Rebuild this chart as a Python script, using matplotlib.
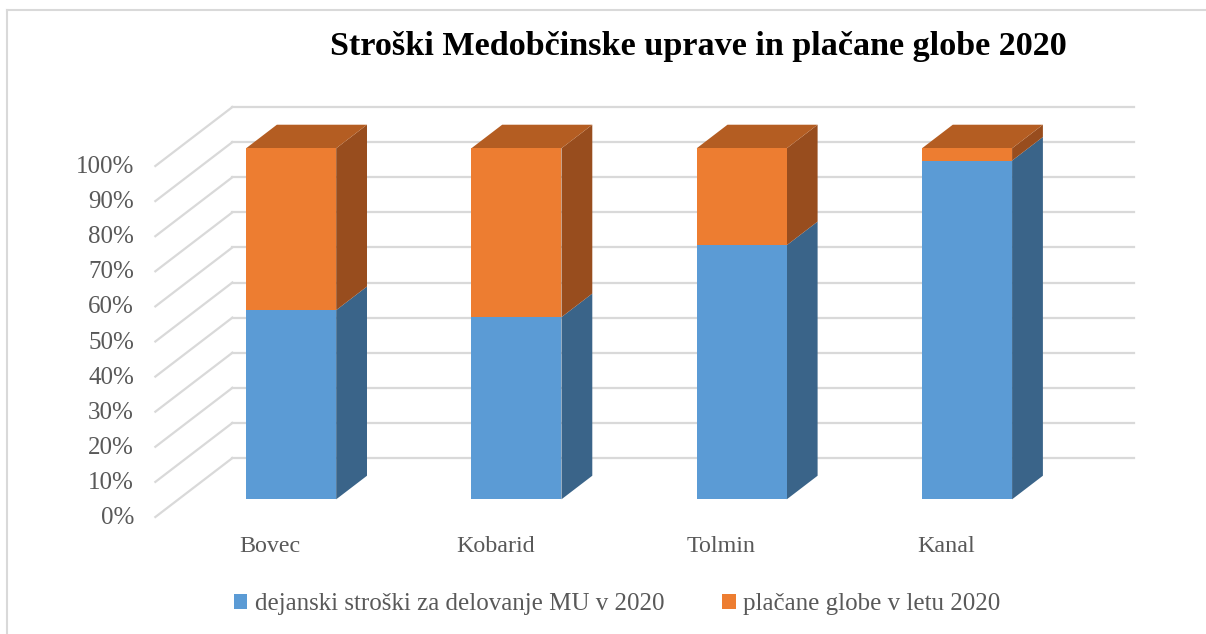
import matplotlib
matplotlib.use("Agg")
import matplotlib.pyplot as plt
from matplotlib.patches import Polygon, Patch
from matplotlib.lines import Line2D

# ---- data ----
categories = ["Bovec", "Kobarid", "Tolmin", "Kanal"]
stroski = [53.9, 51.9, 72.4, 96.5]          # dejanski stroški za delovanje MU v 2020 (%)
globe = [100 - v for v in stroski]          # plačane globe v letu 2020 (%)
series_names = ["dejanski stroški za delovanje MU v 2020", "plačane globe v letu 2020"]
yticks = list(range(0, 101, 10))
ytick_labels = [f"{t}%" for t in yticks]
title = "Stroški Medobčinske uprave in plačane globe 2020"

# ---- style ----
front_cols = ["#5B9BD5", "#ED7D31"]
side_cols = ["#3A6489", "#984D1E"]
top_cols = ["#4A7DB0", "#B45D22"]
grid_col = "#D9D9D9"
text_col = "#595959"
FONT = "Liberation Serif"

# oblique projection (category units / percent units)
DX = 0.342    # x shift for full depth
DY = 16.8     # y shift for full depth
BAR_W = 0.4
Z0, Z1 = 0.3, 0.7


def proj(x, y, z):
    return (x + z * DX, y + z * DY)


fig = plt.figure(figsize=(12.06, 6.34), dpi=100)
ax = fig.add_axes([0, 0, 1, 1])
ax.set_xlim(-1.1895, 4.1633)
ax.set_ylim(-33.33, 147.29)
ax.axis("off")

n = len(categories)
xl_wall, xr_wall = -0.5, n - 0.5

# gridlines: back wall and left wall, tick labels at the front edge
for t, lab in zip(yticks, ytick_labels):
    bx0, by0 = proj(xl_wall, t, 1)
    bx1, by1 = proj(xr_wall, t, 1)
    ax.add_line(Line2D([bx0, bx1], [by0, by1], color=grid_col, lw=1.6, zorder=1))
    fx, fy = proj(xl_wall, t, 0)
    ax.add_line(Line2D([fx, bx0], [fy, by0], color=grid_col, lw=1.6, zorder=1))
    ax.text(fx - 0.095, fy - 0.3, lab, ha="right", va="center", fontsize=18,
            color=text_col, family=FONT)

# bars: side and top faces
for i, cat in enumerate(categories):
    segs = [(0, stroski[i]), (stroski[i], stroski[i] + globe[i])]
    xl, xr = i - BAR_W / 2, i + BAR_W / 2
    for s, (b0, b1) in enumerate(segs):
        if b1 - b0 <= 0:
            continue
        side = [proj(xr, b0, Z0), proj(xr, b0, Z1), proj(xr, b1, Z1), proj(xr, b1, Z0)]
        ax.add_patch(Polygon(side, closed=True, fc=side_cols[s], ec="none", zorder=2))
    top_val = segs[-1][1]
    top = [proj(xl, top_val, Z0), proj(xr, top_val, Z0), proj(xr, top_val, Z1), proj(xl, top_val, Z1)]
    ax.add_patch(Polygon(top, closed=True, fc=top_cols[1], ec="none", zorder=2))

# bars: front faces
xs = [i + Z0 * DX for i in range(n)]
ax.bar(xs, stroski, width=BAR_W, bottom=[Z0 * DY] * n, color=front_cols[0], zorder=3,
       linewidth=0)
ax.bar(xs, globe, width=BAR_W, bottom=[Z0 * DY + v for v in stroski], color=front_cols[1],
       zorder=3, linewidth=0)

# category labels at the front of the floor
for i, cat in enumerate(categories):
    ax.text(i + 0.01, -8.5, cat, ha="center", va="center", fontsize=17.3, color=text_col,
            family=FONT)

# title
fig.text(698 / 1206, 1 - 46 / 634, title, ha="center", va="center", fontsize=24.6,
         fontweight="bold", color="black", family=FONT)

# legend
handles = [Patch(facecolor=front_cols[0], edgecolor="none"),
           Patch(facecolor=front_cols[1], edgecolor="none")]
leg = fig.legend(handles, series_names, loc="center", bbox_to_anchor=(617 / 1206, 1 - 604 / 634),
                 ncol=2, frameon=False, handlelength=0.55, handleheight=0.55, handletextpad=0.3,
                 columnspacing=2.3, prop={"family": FONT, "size": 18})
for t in leg.get_texts():
    t.set_color(text_col)

# chart border (left and top visible)
fig.add_artist(Line2D([7 / 1206, 7 / 1206], [0, 1 - 10 / 634], transform=fig.transFigure,
                      color=grid_col, lw=1.5))
fig.add_artist(Line2D([7 / 1206, 1], [1 - 10 / 634, 1 - 10 / 634], transform=fig.transFigure,
                      color=grid_col, lw=1.5))

fig.savefig("out.png", dpi=100)
